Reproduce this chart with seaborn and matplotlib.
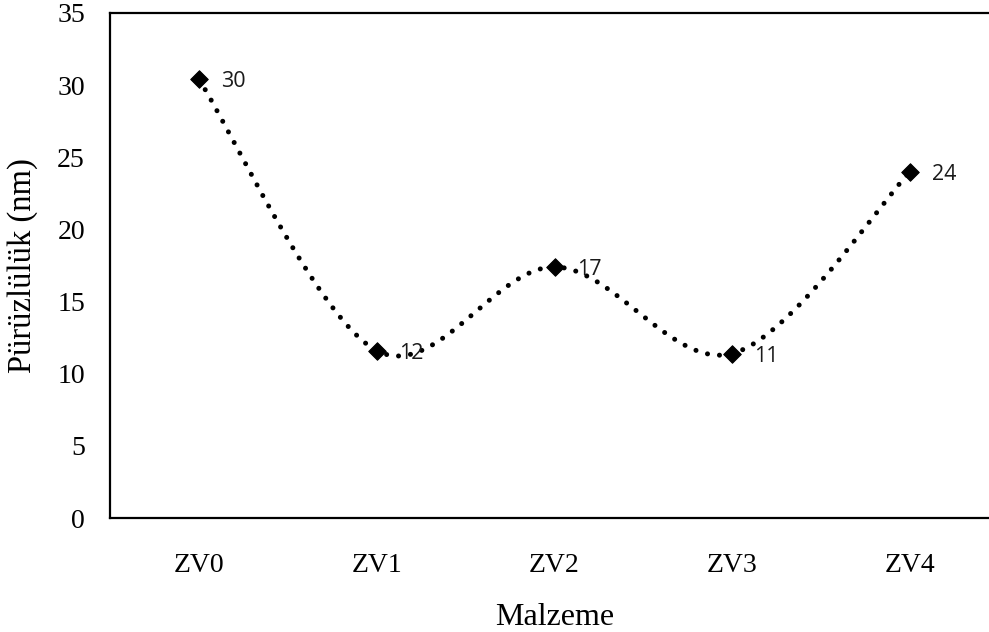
import numpy as np
import pandas as pd
import matplotlib
matplotlib.use("Agg")
import matplotlib.pyplot as plt
import seaborn as sns

categories = ["ZV0", "ZV1", "ZV2", "ZV3", "ZV4"]
values = [30.4, 11.6, 17.4, 11.4, 24.0]
labels = ["30", "12", "17", "11", "24"]
yticks = [0, 5, 10, 15, 20, 25, 30, 35]

sns.set_theme(style="white")
plt.rcParams["font.family"] = ["Liberation Serif", "DejaVu Serif"]

fig = plt.figure(figsize=(9.89, 6.32), dpi=100)
ax = fig.add_axes([110 / 989, (632 - 518) / 632, 889 / 989, (518 - 13) / 632])

# Excel-style smoothed line (Bezier with Catmull-Rom control points)
xs = np.arange(len(values), dtype=float)
ys = np.array(values, dtype=float)
P = np.column_stack([xs, ys])
Pe = np.vstack([P[0], P, P[-1]])
curve = []
t = np.linspace(0, 1, 60)
for i in range(len(P) - 1):
    p0, p1, p2, p3 = Pe[i], Pe[i + 1], Pe[i + 2], Pe[i + 3]
    c1 = p1 + (p2 - p0) / 6
    c2 = p2 - (p3 - p1) / 6
    seg = ((1 - t) ** 3)[:, None] * p1 + (3 * (1 - t) ** 2 * t)[:, None] * c1 \
        + (3 * (1 - t) * t ** 2)[:, None] * c2 + (t ** 3)[:, None] * p2
    curve.append(seg if i == 0 else seg[1:])
curve = np.vstack(curve)
dfc = pd.DataFrame({"x": curve[:, 0], "y": curve[:, 1]})
sns.lineplot(data=dfc, x="x", y="y", sort=False, ax=ax, color="black",
             linewidth=3.6, linestyle=(0, (0.01, 2.4)), dash_capstyle="round",
             estimator=None)

df = pd.DataFrame({"x": xs, "y": ys})
sns.scatterplot(data=df, x="x", y="y", ax=ax, marker="D", s=80, color="black",
                edgecolor="black", zorder=5)

for xi, yi, lab in zip(xs, ys, labels):
    ax.annotate(lab, (xi, yi), xytext=(16, 0), textcoords="offset points",
                va="center_baseline", ha="left", fontsize=15.5,
                family=["Open Sans", "DejaVu Sans"], color="#1a1a1a")

ax.set_xlim(-0.5, 4.5)
ax.set_ylim(0, 35)
ax.set_xticks(xs)
ax.set_xticklabels(categories)
ax.set_yticks(yticks)
ax.tick_params(axis="both", length=0, labelsize=20, colors="black")
ax.tick_params(axis="y", pad=18)
ax.tick_params(axis="x", pad=25)
ax.set_xlabel("Malzeme", fontsize=23, labelpad=18, color="black")
ax.set_ylabel("Pürüzlülük (nm)", fontsize=23.5, labelpad=14, color="black")
for s in ["left", "bottom", "top"]:
    ax.spines[s].set_color("black")
    ax.spines[s].set_linewidth(1.6)
ax.spines["right"].set_visible(False)
ax.grid(False)

fig.savefig("out.png", dpi=100)
